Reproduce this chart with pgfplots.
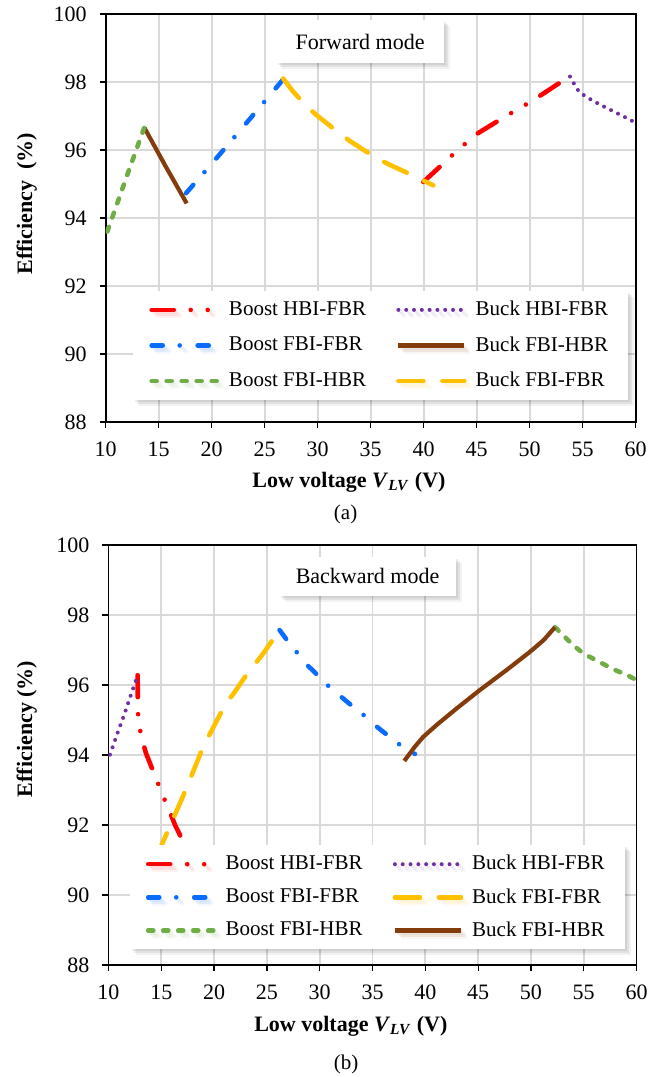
\documentclass[border=0pt]{standalone}
\usepackage{fontspec}
\setmainfont{Liberation Serif}
\usepackage{pgfplots}
\pgfplotsset{compat=1.18}
\usetikzlibrary{shadows}
\definecolor{cRed}{HTML}{FF0000}
\definecolor{cBlue}{HTML}{0A6CFF}
\definecolor{cGreen}{HTML}{70AD47}
\definecolor{cPurple}{HTML}{7030A0}
\definecolor{cBrown}{HTML}{843C0C}
\definecolor{cGold}{HTML}{FFC000}
\definecolor{cGrid}{HTML}{D9D9D9}
\tikzset{softshadow/.style={
  drop shadow={shadow xshift=1pt, shadow yshift=-1pt, fill=black, opacity=0.07},
  drop shadow={shadow xshift=2pt, shadow yshift=-2pt, fill=black, opacity=0.07},
  drop shadow={shadow xshift=3pt, shadow yshift=-3pt, fill=black, opacity=0.05}}}
\pgfplotsset{
  effstyle/.style={
    scale only axis,
    xmin=10,xmax=60,ymin=88,ymax=100,
    xtick={10,15,...,60}, ytick={88,90,...,100},
    grid=major,
    grid style={cGrid, line width=0.9pt},
    axis line style={line width=0.9pt},
    tick align=outside, tick pos=left, major tick length=3pt,
    every tick/.style={black, line width=0.6pt},
    /pgf/number format/assume math mode=true,
    ticklabel style={font=\fontsize{11}{13}\selectfont},
    xticklabel style={yshift=-3.5pt},
    yticklabel style={xshift=-3pt},
    label style={font=\fontsize{11}{13}\selectfont\bfseries},
    legend columns=2,
    legend cell align=left,
    legend style={draw=none, fill=white, softshadow,
      font=\fontsize{10.5}{12}\selectfont,
      /tikz/every even column/.append style={column sep=13pt},
      /tikz/every odd column/.append style={column sep=2.5pt},
      anchor=north west, inner xsep=8pt, inner ysep=3pt},
    legend image code/.code={\draw[#1] (0pt,0pt) -- (33pt,0pt);},
    every axis plot/.append style={no marks, line join=round},
  },
  sRed/.style={cRed, line width=2.3pt, line cap=round, dash pattern=on 11pt off 8.5pt on 0pt off 8.5pt on 0pt off 8.5pt},
  sBlue/.style={cBlue, line width=2.3pt, line cap=round, dash pattern=on 5.5pt off 8.5pt on 0pt off 9pt},
  sGreen/.style={cGreen, line width=2.3pt, line cap=round, dash pattern=on 2.5pt off 5pt},
  sPurple/.style={cPurple, line width=2pt, line cap=round, dash pattern=on 0pt off 3.9pt},
  sBrown/.style={cBrown, line width=2.1pt, solid},
  sGold/.style={cGold, line width=2.3pt, line cap=round, dash pattern=on 12.5pt off 9.5pt},
}
\begin{document}
\begin{tikzpicture}
\path[use as bounding box] (0pt,0pt) rectangle (331pt,538.5pt);
% ---------- (a) Forward mode ----------
\begin{axis}[effstyle, at={(52.85pt,327.5pt)}, anchor=south west, width=265pt, height=204pt,
  xlabel={Low voltage \textit{V}\textsubscript{\textit{LV}} (V)},
  xlabel style={at={(axis description cs:0.459,0)}, anchor=base, yshift=-32.65pt},
  ylabel={Efficiency\ \ (\%)},
  ylabel style={at={(axis description cs:-0.149,0.535)}, anchor=center},
  legend style={at={(axis description cs:0.0515,0.3218)}, row sep=5pt}]
\addplot[sRed] coordinates {(39.97,95.06) (41.6,95.53) (42.7,95.85) (43.9,96.18) (45.1,96.49) (46.3,96.72) (47.45,96.94) (48.77,97.18) (50.15,97.43) (51.44,97.69) (52.6,97.93) (53.8,98.16)};
\addlegendentry{Boost HBI-FBR}
\addplot[sPurple] coordinates {(53.8,98.16) (54.2,97.94) (54.6,97.74) (55.2,97.59) (55.9,97.46) (56.6,97.34) (57.3,97.23) (58.0,97.12) (58.7,97.01) (59.4,96.9) (60.0,96.8)};
\addlegendentry{Buck HBI-FBR}
\addplot[sBlue] coordinates {(17.58,94.73) (19.46,95.4) (22.26,96.42) (25.0,97.43) (26.75,98.08)};
\addlegendentry{Boost FBI-FBR}
\addplot[sBrown] coordinates {(13.64,96.66) (15.6,95.55) (17.64,94.43)};
\addlegendentry{Buck FBI-HBR}
\addplot[sGreen] coordinates {(10.15,93.6) (11.9,95.15) (13.64,96.66)};
\addlegendentry{Boost FBI-HBR}
\addplot[sGold] coordinates {(26.75,98.1) (27.6,97.75) (28.64,97.39) (29.75,97.06) (31.94,96.52) (33.05,96.26) (35.5,95.77) (36.82,95.56) (39.34,95.2) (40.9,94.96)};
\addlegendentry{Buck FBI-FBR}
\node[fill=white, softshadow,
  font=\fontsize{11}{13}\selectfont, minimum width=84pt, minimum height=21.5pt, inner sep=0pt]
  at (axis cs:34.0,99.19) {Forward mode};
\end{axis}
\node[font=\fontsize{10.5}{12}\selectfont, anchor=base] at (172.8pt,278.5pt) {(a)};
% ---------- (b) Backward mode ----------
\begin{axis}[effstyle, at={(54.25pt,56pt)}, anchor=south west, width=264pt, height=210pt,
  xlabel={Low voltage \textit{V}\textsubscript{\textit{LV}} (V)},
  xlabel style={at={(axis description cs:0.459,0)}, anchor=base, yshift=-33pt},
  ylabel={Efficiency (\%)},
  ylabel style={at={(axis description cs:-0.155,0.562)}, anchor=center},
  legend style={at={(axis description cs:0.0398,0.2857)}, row sep=3.8pt}]
\addplot[sRed] coordinates {(12.76,96.28) (12.78,95.43) (12.82,94.97) (13.14,94.49) (13.55,94.05) (14.62,93.24) (15.16,92.83) (15.8,92.38) (16.3,92.0) (17.0,91.57) (17.6,91.2)};
\addlegendentry{Boost HBI-FBR}
\addplot[sPurple] coordinates {(10.14,94.01) (10.8,94.58) (11.5,95.16) (12.1,95.7) (12.76,96.28)};
\addlegendentry{Buck HBI-FBR}
\addplot[sBlue] coordinates {(26.2,97.57) (26.93,97.27) (27.92,96.9) (28.92,96.54) (29.87,96.26) (30.9,95.95) (32.08,95.65) (33.03,95.41) (34.29,95.11) (35.4,94.81) (36.4,94.57) (37.6,94.29) (39.02,94.03)};
\addlegendentry{Boost FBI-FBR}
\addplot[sGold] coordinates {(14.6,91.1) (15.04,91.43) (17.24,92.95) (18.98,94.24) (21.03,95.43) (21.95,95.8) (23.09,96.3) (24.53,96.85) (26.2,97.57)};
\addlegendentry{Buck FBI-FBR}
\addplot[sGreen] coordinates {(52.28,97.65) (54.0,97.14) (54.96,96.9) (56.23,96.7) (57.8,96.45) (59.07,96.29) (60.0,96.14)};
\addlegendentry{Boost FBI-HBR}
\addplot[sBrown] coordinates {(38.01,93.83) (39.02,94.24) (39.81,94.52) (41.08,94.86) (42.97,95.33) (45.1,95.84) (47.71,96.43) (49.92,96.95) (51.2,97.28) (52.28,97.65)};
\addlegendentry{Buck FBI-HBR}
\node[fill=white, softshadow,
  font=\fontsize{11}{13}\selectfont, minimum width=88.5pt, minimum height=19.5pt, inner sep=0pt]
  at (axis cs:34.53,99.11) {Backward mode};
\end{axis}
\node[font=\fontsize{10.5}{12}\selectfont, anchor=base] at (173pt,3.5pt) {(b)};
\end{tikzpicture}
\end{document}
